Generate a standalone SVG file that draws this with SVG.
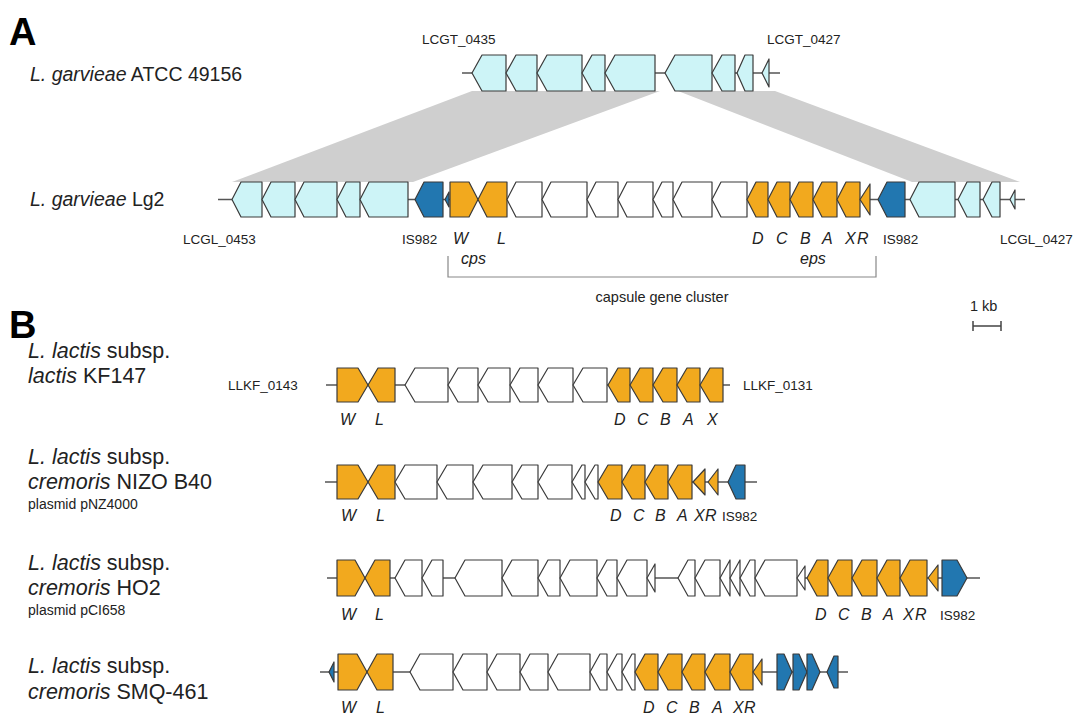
<svg xmlns="http://www.w3.org/2000/svg" width="1074" height="715" viewBox="0 0 1074 715">
<style>
text{font-family:"Liberation Sans",Arial,sans-serif;fill:#222}
.sp{font-size:19.5px}
.sb{font-size:21.5px}
.pl{font-size:14px}
.lb{font-size:13.5px}
.gl{font-size:16px;font-style:italic}
.it{font-style:italic}
.pn{font-size:38px;font-weight:bold;fill:#000}
.ln{stroke:#555;stroke-width:1.5;fill:none}
polygon{stroke:#3a3a3a;stroke-width:1.2;stroke-linejoin:round}
.c{fill:#cdf4f7}
.o{fill:#f2a91e}
.w{fill:#ffffff}
.b{fill:#2277b0}
.band{fill:#cfcfcf;stroke:none}
</style>
<rect width="1074" height="715" fill="#ffffff"/>

<g id="bands">
<polygon class="band" points="472,91 660,91 413,182 232,182"/>
<polygon class="band" points="678,91 775,91 1020,182 912,182"/>
</g>

<text class="pn" x="9" y="45">A</text>
<text class="pn" x="9" y="338">B</text>

<g id="connectors">
<line class="ln" x1="462" y1="73" x2="780" y2="73"/>
<line class="ln" x1="218" y1="199.5" x2="1025" y2="199.5"/>
<line class="ln" x1="326" y1="385" x2="730" y2="385"/>
<line class="ln" x1="325" y1="482" x2="757" y2="482"/>
<line class="ln" x1="327" y1="578" x2="980" y2="578"/>
<line class="ln" x1="320" y1="672" x2="848" y2="672"/>
<path d="M448,256 V277 H876 V256" stroke="#888" stroke-width="1.2" fill="none"/>
<path d="M973,326 H1001 M973,321 V331 M1001,321 V331" stroke="#444" stroke-width="1.5" fill="none"/>
</g>

<g id="atcc">
<text class="sp" x="30" y="81"><tspan class="it">L. garvieae</tspan> ATCC 49156</text>
<text class="lb" x="422" y="44">LCGT_0435</text>
<text class="lb" x="767" y="44">LCGT_0427</text>
<polygon class="c" points="472,73 482,55 506,55 506,91 482,91"/>
<polygon class="c" points="506,73 516,55 537,55 537,91 516,91"/>
<polygon class="c" points="537,73 547,55 582,55 582,91 547,91"/>
<polygon class="c" points="582,73 592,55 605,55 605,91 592,91"/>
<polygon class="c" points="605,73 615,55 655,55 655,91 615,91"/>
<polygon class="c" points="665,73 675,55 712,55 712,91 675,91"/>
<polygon class="c" points="712,73 722,55 735,55 735,91 722,91"/>
<polygon class="c" points="737,73 745,55 753,55 753,91 745,91"/>
<polygon class="c" points="762,73 769,59 769,87"/>
</g>

<g id="lg2">
<text class="sp" x="30" y="206"><tspan class="it">L. garvieae</tspan> Lg2</text>
<polygon class="c" points="232,199.5 241,182 262,182 262,217 241,217"/>
<polygon class="c" points="262,199.5 271,182 295,182 295,217 271,217"/>
<polygon class="c" points="295,199.5 304,182 337,182 337,217 304,217"/>
<polygon class="c" points="337,199.5 346,182 360,182 360,217 346,217"/>
<polygon class="c" points="360,199.5 369,182 408,182 408,217 369,217"/>
<polygon class="b" points="415,199.5 424,182 443,182 443,217 424,217"/>
<polygon class="b" points="445,199.5 449,192 449,207"/>
<polygon class="o" points="450,182 469,182 478,199.5 469,217 450,217"/>
<polygon class="o" points="478,199.5 487,182 507,182 507,217 487,217"/>
<polygon class="w" points="507,199.5 516,182 542,182 542,217 516,217"/>
<polygon class="w" points="542,199.5 551,182 587,182 587,217 551,217"/>
<polygon class="w" points="587,199.5 596,182 618,182 618,217 596,217"/>
<polygon class="w" points="618,199.5 627,182 653,182 653,217 627,217"/>
<polygon class="w" points="653,199.5 662,182 673,182 673,217 662,217"/>
<polygon class="w" points="673,199.5 682,182 712,182 712,217 682,217"/>
<polygon class="w" points="712,199.5 721,182 747,182 747,217 721,217"/>
<polygon class="o" points="747,199.5 756,182 768,182 768,217 756,217"/>
<polygon class="o" points="768,199.5 777,182 790,182 790,217 777,217"/>
<polygon class="o" points="790,199.5 799,182 813,182 813,217 799,217"/>
<polygon class="o" points="813,199.5 822,182 837,182 837,217 822,217"/>
<polygon class="o" points="837,199.5 846,182 860,182 860,217 846,217"/>
<polygon class="o" points="860,199.5 870,184 870,215"/>
<polygon class="b" points="878,199.5 887,182 905,182 905,217 887,217"/>
<polygon class="c" points="910,199.5 919,182 955,182 955,217 919,217"/>
<polygon class="c" points="958,199.5 967,182 980,182 980,217 967,217"/>
<polygon class="c" points="983,199.5 992,182 1000,182 1000,217 992,217"/>
<polygon class="c" points="1010,199.5 1015,190 1015,209"/>
<text class="lb" x="183" y="244">LCGL_0453</text>
<text class="lb" x="402" y="244">IS982</text>
<text class="gl" x="453" y="244">W</text>
<text class="gl" x="497" y="244">L</text>
<text class="gl" x="752" y="244">D</text>
<text class="gl" x="776" y="244">C</text>
<text class="gl" x="800" y="244">B</text>
<text class="gl" x="822" y="244">A</text>
<text class="gl" x="845" y="244">X</text>
<text class="gl" x="857" y="244">R</text>
<text class="lb" x="883" y="244">IS982</text>
<text class="lb" x="1000" y="244">LCGL_0427</text>
<text class="gl" x="461" y="264">cps</text>
<text class="gl" x="800" y="264">eps</text>
<text class="lb" x="662" y="302" text-anchor="middle" style="font-size:14.5px">capsule gene cluster</text>
<text class="lb" x="970" y="311" style="font-size:14.5px">1 kb</text>
</g>

<g id="kf147">
<text class="sb" x="28" y="358"><tspan class="it">L. lactis</tspan> subsp.</text>
<text class="sb" x="28" y="383"><tspan class="it">lactis</tspan> KF147</text>
<text class="lb" x="228" y="390">LLKF_0143</text>
<text class="lb" x="743" y="390">LLKF_0131</text>
<polygon class="o" points="337,368 358,368 368,385 358,402 337,402"/>
<polygon class="o" points="368,385 378,368 395,368 395,402 378,402"/>
<polygon class="w" points="405,385 415,368 448,368 448,402 415,402"/>
<polygon class="w" points="448,385 458,368 478,368 478,402 458,402"/>
<polygon class="w" points="478,385 488,368 510,368 510,402 488,402"/>
<polygon class="w" points="510,385 520,368 538,368 538,402 520,402"/>
<polygon class="w" points="538,385 548,368 573,368 573,402 548,402"/>
<polygon class="w" points="573,385 583,368 607,368 607,402 583,402"/>
<polygon class="o" points="608,385 618,368 630,368 630,402 618,402"/>
<polygon class="o" points="630,385 640,368 653,368 653,402 640,402"/>
<polygon class="o" points="653,385 663,368 677,368 677,402 663,402"/>
<polygon class="o" points="677,385 687,368 700,368 700,402 687,402"/>
<polygon class="o" points="700,385 710,368 723,368 723,402 710,402"/>
<text class="gl" x="340" y="425">W</text>
<text class="gl" x="375" y="425">L</text>
<text class="gl" x="614" y="425">D</text>
<text class="gl" x="637" y="425">C</text>
<text class="gl" x="660" y="425">B</text>
<text class="gl" x="683" y="425">A</text>
<text class="gl" x="707" y="425">X</text>
</g>

<g id="nizo">
<text class="sb" x="28" y="464"><tspan class="it">L. lactis</tspan> subsp.</text>
<text class="sb" x="28" y="489"><tspan class="it">cremoris</tspan> NIZO B40</text>
<text class="pl" x="28" y="509">plasmid pNZ4000</text>
<polygon class="o" points="337,465 358,465 368,482 358,499 337,499"/>
<polygon class="o" points="368,482 378,465 395,465 395,499 378,499"/>
<polygon class="w" points="395,482 405,465 437,465 437,499 405,499"/>
<polygon class="w" points="437,482 447,465 473,465 473,499 447,499"/>
<polygon class="w" points="473,482 483,465 512,465 512,499 483,499"/>
<polygon class="w" points="512,482 522,465 538,465 538,499 522,499"/>
<polygon class="w" points="538,482 548,465 572,465 572,499 548,499"/>
<polygon class="w" points="572,482 582,465 585,465 585,499 582,499"/>
<polygon class="w" points="585,482 595,465 598,465 598,499 595,499"/>
<polygon class="o" points="598,482 608,465 622,465 622,499 608,499"/>
<polygon class="o" points="622,482 632,465 645,465 645,499 632,499"/>
<polygon class="o" points="645,482 655,465 668,465 668,499 655,499"/>
<polygon class="o" points="668,482 678,465 692,465 692,499 678,499"/>
<polygon class="o" points="693,482 705,469 705,495"/>
<polygon class="o" points="708,482 718,469 718,495"/>
<polygon class="b" points="728,482 736,465 745,465 745,499 736,499"/>
<text class="gl" x="341" y="521">W</text>
<text class="gl" x="376" y="521">L</text>
<text class="gl" x="610" y="521">D</text>
<text class="gl" x="633" y="521">C</text>
<text class="gl" x="655" y="521">B</text>
<text class="gl" x="677" y="521">A</text>
<text class="gl" x="694" y="521">X</text>
<text class="gl" x="705" y="521">R</text>
<text class="lb" x="722" y="521">IS982</text>
</g>

<g id="ho2">
<text class="sb" x="28" y="570"><tspan class="it">L. lactis</tspan> subsp.</text>
<text class="sb" x="28" y="595"><tspan class="it">cremoris</tspan> HO2</text>
<text class="pl" x="28" y="615">plasmid pCI658</text>
<polygon class="o" points="337,560 355,560 365,578 355,596 337,596"/>
<polygon class="o" points="365,578 375,560 390,560 390,596 375,596"/>
<polygon class="w" points="395,578 405,560 422,560 422,596 405,596"/>
<polygon class="w" points="422,578 432,560 443,560 443,596 432,596"/>
<polygon class="w" points="455,578 465,560 502,560 502,596 465,596"/>
<polygon class="w" points="502,578 512,560 538,560 538,596 512,596"/>
<polygon class="w" points="538,578 548,560 560,560 560,596 548,596"/>
<polygon class="w" points="560,578 570,560 597,560 597,596 570,596"/>
<polygon class="w" points="597,578 607,560 617,560 617,596 607,596"/>
<polygon class="w" points="617,578 627,560 647,560 647,596 627,596"/>
<polygon class="w" points="647,578 655,564 655,592"/>
<polygon class="w" points="678,578 688,560 695,560 695,596 688,596"/>
<polygon class="w" points="695,578 705,560 720,560 720,596 705,596"/>
<polygon class="w" points="720,578 730,560 730,596"/>
<polygon class="w" points="730,578 740,560 740,596"/>
<polygon class="w" points="740,578 750,560 755,560 755,596 750,596"/>
<polygon class="w" points="755,578 765,560 797,560 797,596 765,596"/>
<polygon class="w" points="797,578 805,566 805,590"/>
<polygon class="o" points="807,578 817,560 828,560 828,596 817,596"/>
<polygon class="o" points="828,578 838,560 852,560 852,596 838,596"/>
<polygon class="o" points="852,578 862,560 877,560 877,596 862,596"/>
<polygon class="o" points="877,578 887,560 900,560 900,596 887,596"/>
<polygon class="o" points="900,578 910,560 927,560 927,596 910,596"/>
<polygon class="o" points="928,578 938,565 938,591"/>
<polygon class="b" points="942,560 957,560 967,578 957,596 942,596"/>
<text class="gl" x="341" y="620">W</text>
<text class="gl" x="375" y="620">L</text>
<text class="gl" x="815" y="620">D</text>
<text class="gl" x="838" y="620">C</text>
<text class="gl" x="861" y="620">B</text>
<text class="gl" x="883" y="620">A</text>
<text class="gl" x="903" y="620">X</text>
<text class="gl" x="915" y="620">R</text>
<text class="lb" x="940" y="620">IS982</text>
</g>

<g id="smq461">
<text class="sb" x="28" y="673"><tspan class="it">L. lactis</tspan> subsp.</text>
<text class="sb" x="28" y="699"><tspan class="it">cremoris</tspan> SMQ-461</text>
<polygon class="b" points="329,672 334,662 334,682"/>
<polygon class="o" points="338,654 357,654 367,672 357,690 338,690"/>
<polygon class="o" points="367,672 377,654 393,654 393,690 377,690"/>
<polygon class="w" points="410,672 420,654 453,654 453,690 420,690"/>
<polygon class="w" points="453,672 463,654 487,654 487,690 463,690"/>
<polygon class="w" points="487,672 497,654 520,654 520,690 497,690"/>
<polygon class="w" points="520,672 530,654 548,654 548,690 530,690"/>
<polygon class="w" points="548,672 558,654 590,654 590,690 558,690"/>
<polygon class="w" points="590,672 600,654 607,654 607,690 600,690"/>
<polygon class="w" points="607,672 617,654 622,654 622,690 617,690"/>
<polygon class="w" points="622,672 632,654 635,654 635,690 632,690"/>
<polygon class="o" points="635,672 645,654 658,654 658,690 645,690"/>
<polygon class="o" points="658,672 668,654 682,654 682,690 668,690"/>
<polygon class="o" points="682,672 692,654 705,654 705,690 692,690"/>
<polygon class="o" points="705,672 715,654 730,654 730,690 715,690"/>
<polygon class="o" points="730,672 740,654 753,654 753,690 740,690"/>
<polygon class="o" points="753,672 762,659 762,685"/>
<polygon class="b" points="777,654 784,654 792,672 784,690 777,690"/>
<polygon class="b" points="793,654 799,654 807,672 799,690 793,690"/>
<polygon class="b" points="807,654 812,654 820,672 812,690 807,690"/>
<polygon class="b" points="827,672 834,656 838,656 838,688 834,688"/>
<text class="gl" x="341" y="713">W</text>
<text class="gl" x="376" y="713">L</text>
<text class="gl" x="643" y="713">D</text>
<text class="gl" x="666" y="713">C</text>
<text class="gl" x="689" y="713">B</text>
<text class="gl" x="712" y="713">A</text>
<text class="gl" x="733" y="713">X</text>
<text class="gl" x="744" y="713">R</text>
</g>
</svg>
